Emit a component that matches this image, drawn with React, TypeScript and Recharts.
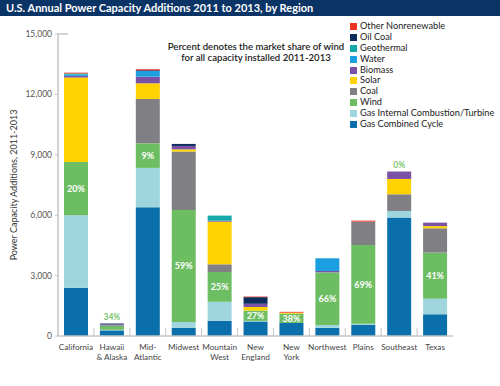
import React from 'react';
import { BarChart, Bar, XAxis, YAxis, LabelList } from 'recharts';

const categories = ['California', 'Hawaii\n& Alaska', 'Mid-\nAtlantic', 'Midwest', 'Mountain\nWest', 'New\nEngland', 'New\nYork', 'Northwest', 'Plains', 'Southeast', 'Texas'];
const gasCombined = [2400, 280, 6400, 410, 750, 720, 650, 410, 550, 5880, 1080];
const gasTurbine = [3600, 30, 1950, 290, 950, 30, 0, 140, 60, 330, 770];
const wind = [2640, 210, 1220, 5560, 1480, 510, 460, 2610, 3910, 0, 2290];
const coal = [0, 0, 2200, 2900, 380, 0, 0, 0, 1160, 830, 1210];
const solar = [4200, 0, 780, 110, 2120, 180, 50, 0, 0, 760, 110];
const biomass = [80, 60, 330, 170, 50, 160, 0, 70, 0, 370, 170];
const water = [60, 0, 280, 0, 0, 0, 0, 630, 0, 0, 0];
const geothermal = [60, 0, 0, 0, 250, 0, 0, 0, 0, 0, 0];
const oilCoal = [0, 40, 40, 100, 0, 330, 0, 0, 0, 0, 0];
const otherNonrenewable = [40, 0, 50, 0, 0, 30, 40, 0, 50, 0, 0];
const windShare = ['20%', '34%', '9%', '59%', '25%', '27%', '38%', '66%', '69%', '0%', '41%'];
const yTicks = [0, 3000, 6000, 9000, 12000, 15000];

const series = [
  { key: 'gasCombined', name: 'Gas Combined Cycle', color: '#0a6fab', values: gasCombined },
  { key: 'gasTurbine', name: 'Gas Internal Combustion/Turbine', color: '#9fd6dd', values: gasTurbine },
  { key: 'wind', name: 'Wind', color: '#6dbd62', values: wind },
  { key: 'coal', name: 'Coal', color: '#808084', values: coal },
  { key: 'solar', name: 'Solar', color: '#ffd200', values: solar },
  { key: 'biomass', name: 'Biomass', color: '#7b51a5', values: biomass },
  { key: 'water', name: 'Water', color: '#1c9fe0', values: water },
  { key: 'geothermal', name: 'Geothermal', color: '#14aaa8', values: geothermal },
  { key: 'oilCoal', name: 'Oil Coal', color: '#0e2d5c', values: oilCoal },
  { key: 'otherNonrenewable', name: 'Other Nonrenewable', color: '#ec3325', values: otherNonrenewable },
];

const data = categories.map((c, i) => {
  const row: Record<string, any> = { name: c, share: windShare[i] };
  let total = 0;
  series.forEach((s) => { row[s.key] = s.values[i]; total += s.values[i]; });
  row.total = total;
  row.outsideLabel = wind[i] < 300 ? windShare[i] : '';
  return row;
});

const FONT = 'Lato, "Open Sans", sans-serif';
const W = 500;
const H = 386;
const margin = { top: 34, right: 47, bottom: 20, left: 0 };
const yAxisWidth = 58;
const plotWidth = W - margin.left - margin.right - yAxisWidth;
const band = plotWidth / categories.length;

const XTick = (props: any) => {
  const { x, y, payload, index } = props;
  const lines = String(payload.value).split('\n');
  return (
    <g>
      {index > 0 && (
        <line x1={x - band / 2} x2={x - band / 2} y1={y - 8} y2={y} stroke="#c4c4c4" strokeWidth={1} />
      )}
      <text x={x} y={y + 14} textAnchor="middle" fontSize={8.2} fill="#444" fontFamily={FONT}>
        {lines.map((l, i) => (
          <tspan key={i} x={x} dy={i === 0 ? 0 : 9.5}>{l}</tspan>
        ))}
      </text>
    </g>
  );
};

const YTick = (props: any) => {
  const { x, y, payload } = props;
  return (
    <g>
      {payload.value === 15000 && (
        <line x1={x + 6} x2={x + 16} y1={y} y2={y} stroke="#c4c4c4" strokeWidth={1.5} />
      )}
      <text x={x} y={y} dy={3} textAnchor="end" fontSize={8.5} fill="#555" fontFamily={FONT}>
        {payload.value.toLocaleString('en-US')}
      </text>
    </g>
  );
};

const InsideWindLabel = (props: any) => {
  const { x, y, width, height, value } = props;
  if (height < 6) return null;
  return (
    <text x={x + width / 2} y={y + height / 2} dy={3.3} textAnchor="middle" fontSize={9} fontWeight="bold" fill="#fff" fontFamily={FONT}>
      {value}
    </text>
  );
};

const OutsideWindLabel = (props: any) => {
  const { x, y, width, value } = props;
  if (!value) return null;
  return (
    <text x={x + width / 2} y={y - 4} textAnchor="middle" fontSize={8.5} fontWeight="bold" fill="#7cc46f" fontFamily={FONT}>
      {value}
    </text>
  );
};

export default function App() {
  const legendItems = [...series].reverse();
  return (
    <div style={{ position: 'absolute', left: 0, top: 0, width: W, height: H, background: '#fff', fontFamily: FONT, overflow: 'hidden' }}>
      <div style={{ position: 'absolute', left: 0, top: 0, width: W, height: 16, background: '#0b3466', color: '#fff', fontWeight: 'bold', fontSize: 11, lineHeight: '16px', paddingLeft: 6, boxSizing: 'border-box', whiteSpace: 'nowrap' }}>
        U.S. Annual Power Capacity Additions 2011 to 2013, by Region
      </div>
      <BarChart width={W} height={H} data={data} margin={margin} barSize={24}>
        <XAxis dataKey="name" interval={0} height={30} tick={<XTick />} tickLine={false} tickSize={0} tickMargin={0} axisLine={{ stroke: '#c4c4c4', strokeWidth: 1.5 }} />
        <XAxis xAxisId="overlay" dataKey="name" hide />
        <YAxis width={yAxisWidth} domain={[0, 15000]} ticks={yTicks} tick={<YTick />} tickSize={3} tickMargin={3} tickLine={{ stroke: '#c4c4c4' }} axisLine={{ stroke: '#c4c4c4', strokeWidth: 1.5 }} />
        {series.map((s) => (
          <Bar key={s.key} dataKey={s.key} stackId="a" fill={s.color} isAnimationActive={false}>
            {s.key === 'wind' && <LabelList dataKey="share" content={<InsideWindLabel />} />}
          </Bar>
        ))}
        <Bar xAxisId="overlay" dataKey="total" fill="transparent" isAnimationActive={false}>
          <LabelList dataKey="outsideLabel" content={<OutsideWindLabel />} />
        </Bar>
      </BarChart>
      <div style={{ position: 'absolute', left: 13, top: 185, transform: 'translate(-50%, -50%) rotate(-90deg)', transformOrigin: 'center', whiteSpace: 'nowrap', fontSize: 9, color: '#333' }}>
        Power Capacity Additions, 2011-2013
      </div>
      <div style={{ position: 'absolute', left: 256, top: 41, transform: 'translateX(-50%)', textAlign: 'center', whiteSpace: 'nowrap', fontSize: 9.6, lineHeight: '11px', fontWeight: 600, color: '#222' }}>
        Percent denotes the market share of wind<br />for all capacity installed 2011-2013
      </div>
      <div style={{ position: 'absolute', left: 350, top: 21 }}>
        {legendItems.map((s) => (
          <div key={s.key} style={{ display: 'flex', alignItems: 'center', height: 10.9, whiteSpace: 'nowrap' }}>
            <span style={{ display: 'inline-block', width: 7, height: 7, background: s.color, marginRight: 3 }} />
            <span style={{ fontSize: 9.2, color: '#222', lineHeight: '10.9px' }}>{s.name}</span>
          </div>
        ))}
      </div>
    </div>
  );
}
